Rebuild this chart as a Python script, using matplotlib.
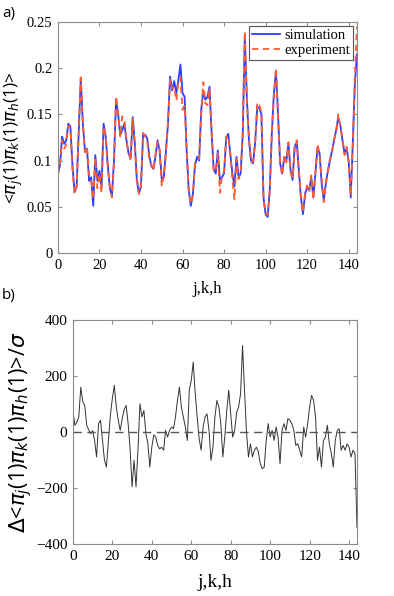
import numpy as np
import matplotlib
matplotlib.use("Agg")
import matplotlib.pyplot as plt

# index j,k,h
idx = np.arange(0, 145)

simulation = [
    0.086, 0.095, 0.126, 0.118, 0.122, 0.140, 0.137, 0.095, 0.066, 0.071,
    0.130, 0.189, 0.140, 0.111, 0.113, 0.078, 0.082, 0.051, 0.106, 0.078,
    0.089, 0.071, 0.140, 0.126, 0.095, 0.070, 0.062, 0.100, 0.166, 0.150,
    0.128, 0.133, 0.140, 0.122, 0.108, 0.102, 0.147, 0.120, 0.079, 0.064,
    0.072, 0.128, 0.128, 0.124, 0.105, 0.094, 0.091, 0.105, 0.122, 0.110,
    0.080, 0.082, 0.110, 0.140, 0.191, 0.176, 0.186, 0.173, 0.187, 0.204,
    0.173, 0.169, 0.110, 0.068, 0.051, 0.064, 0.095, 0.104, 0.100, 0.155,
    0.175, 0.166, 0.169, 0.180, 0.130, 0.091, 0.086, 0.111, 0.079, 0.082,
    0.086, 0.124, 0.129, 0.108, 0.086, 0.072, 0.104, 0.082, 0.086, 0.129,
    0.235, 0.166, 0.122, 0.100, 0.097, 0.120, 0.158, 0.157, 0.150, 0.060,
    0.042, 0.039, 0.068, 0.129, 0.173, 0.196, 0.150, 0.097, 0.086, 0.104,
    0.100, 0.118, 0.090, 0.079, 0.115, 0.120, 0.090, 0.060, 0.042, 0.064,
    0.071, 0.068, 0.082, 0.060, 0.086, 0.114, 0.108, 0.075, 0.057, 0.075,
    0.089, 0.100, 0.111, 0.122, 0.133, 0.147, 0.138, 0.122, 0.108, 0.113,
    0.100, 0.060, 0.120, 0.184, 0.215,
]

experiment = [
    0.084, 0.097, 0.122, 0.113, 0.117, 0.138, 0.135, 0.090, 0.064, 0.073,
    0.128, 0.190, 0.142, 0.109, 0.115, 0.085, 0.080, 0.058, 0.103, 0.070,
    0.086, 0.065, 0.137, 0.128, 0.093, 0.072, 0.060, 0.098, 0.170, 0.150,
    0.126, 0.148, 0.145, 0.120, 0.110, 0.100, 0.145, 0.118, 0.082, 0.064,
    0.074, 0.130, 0.126, 0.122, 0.100, 0.096, 0.089, 0.107, 0.120, 0.112,
    0.072, 0.084, 0.108, 0.142, 0.188, 0.178, 0.180, 0.165, 0.185, 0.190,
    0.155, 0.160, 0.112, 0.066, 0.053, 0.062, 0.097, 0.100, 0.102, 0.150,
    0.185, 0.162, 0.160, 0.178, 0.132, 0.089, 0.088, 0.108, 0.065, 0.084,
    0.088, 0.126, 0.127, 0.106, 0.080, 0.058, 0.102, 0.080, 0.088, 0.131,
    0.240, 0.164, 0.124, 0.098, 0.099, 0.122, 0.163, 0.160, 0.152, 0.058,
    0.044, 0.041, 0.066, 0.131, 0.171, 0.200, 0.148, 0.099, 0.084, 0.106,
    0.098, 0.120, 0.088, 0.081, 0.113, 0.122, 0.088, 0.062, 0.044, 0.062,
    0.073, 0.066, 0.084, 0.058, 0.088, 0.118, 0.106, 0.080, 0.055, 0.077,
    0.087, 0.102, 0.109, 0.124, 0.131, 0.150, 0.136, 0.124, 0.106, 0.115,
    0.098, 0.062, 0.118, 0.190, 0.245,
]

delta = [
    77, 24, 35, 55, 160, 110, 95, 25, 8, -6,
    5, -30, -89, 30, 42, -30, -100, -125, -30, 60,
    120, 167, 90, 42, 6, 48, 80, 95, 30, -60,
    -196, -101, -196, -60, 101, 54, 77, -6, -40, -125,
    -54, -10, -18, -48, -60, -54, -65, 6, -18, 6,
    18, 12, 54, 113, 160, 89, 54, 18, -30, 150,
    184, 250, 140, 54, -24, -65, 18, 54, 65, 6,
    -101, -54, 54, 113, 89, 30, -89, -18, 77, 149,
    65, -18, 6, 70, 89, 137, 309, 150, 0, -89,
    -42, -89, -65, -54, -70, -113, -131, -125, -30, 30,
    -18, 6, -30, 18, -18, -113, 6, 30, 6, 48,
    42, 30, 6, -48, -42, -65, -89, 18, -18, 30,
    89, 131, 113, 54, -101, -54, -125, -30, -18, 24,
    -42, -77, -125, -30, 6, 12, -65, -48, -65, -42,
    -54, -89, -65, -77, -340,
]

ylab_a = r"<$\pi_j$(1)$\pi_k$(1)$\pi_h$(1)>"
ylab_b = r"$\Delta$<$\pi_j$(1)$\pi_k$(1)$\pi_h$(1)>/$\sigma$"

serif = "Liberation Serif"
sans = "Open Sans"
axcol = "#8c8c8c"


def style_axes(ax):
    for s in ax.spines.values():
        s.set_color(axcol)
        s.set_linewidth(0.8)
    ax.tick_params(direction="in", top=True, right=True, color=axcol,
                   length=3, width=0.8, labelsize=10.5, pad=4)
    for lab in ax.get_xticklabels() + ax.get_yticklabels():
        lab.set_fontfamily(serif)


fig = plt.figure(figsize=(3.94, 5.96), dpi=100)

# panel a
ax1 = fig.add_axes([0.147, 0.5755, 0.759, 0.3876])
ax1.plot(idx, simulation, color="#2a40ff", lw=1.3, label="simulation")
ax1.plot(idx, experiment, color="#ff5a30", lw=1.3, ls=(0, (3.5, 2.5)),
         label="experiment")
ax1.set_xlim(0, 144)
ax1.set_ylim(0, 0.25)
ax1.set_xticks([0, 20, 40, 60, 80, 100, 120, 140])
ax1.set_yticks([0, 0.05, 0.1, 0.15, 0.2, 0.25])
ax1.set_yticklabels(["0", "0.05", "0.1", "0.15", "0.2", "0.25"])
style_axes(ax1)
ax1.set_xlabel("j,k,h", family=serif, fontsize=12, labelpad=7)
ax1.set_ylabel(ylab_a, family=sans, fontsize=12.5, labelpad=1)
leg = ax1.legend(loc="upper right", prop={"family": serif, "size": 10.5},
                 fancybox=False, framealpha=1, edgecolor="#555555",
                 borderpad=0.2, handlelength=1.9, handletextpad=0.3,
                 labelspacing=0.1, borderaxespad=0.3)
leg.get_frame().set_linewidth(0.8)

# panel b
ax2 = fig.add_axes([0.185, 0.0872, 0.721, 0.3758])
ax2.plot(idx, delta, color="#333333", lw=0.7)
ax2.axhline(0, color="#555555", lw=1.0, ls=(0, (6, 4)))
ax2.set_xlim(0, 144)
ax2.set_ylim(-400, 400)
ax2.set_xticks([0, 20, 40, 60, 80, 100, 120, 140])
ax2.set_yticks([-400, -200, 0, 200, 400])
style_axes(ax2)
ax2.tick_params(labelsize=11)
ax2.set_xlabel("j,k,h", family=serif, fontsize=14, labelpad=8)
ax2.set_ylabel(ylab_b, family=sans, fontsize=15.5, labelpad=1)

fig.text(0.005, 0.978, "a)", family=sans, fontsize=11, va="center")
fig.text(0.005, 0.505, "b)", family=sans, fontsize=11, va="center")

fig.savefig("out.png", dpi=100)
